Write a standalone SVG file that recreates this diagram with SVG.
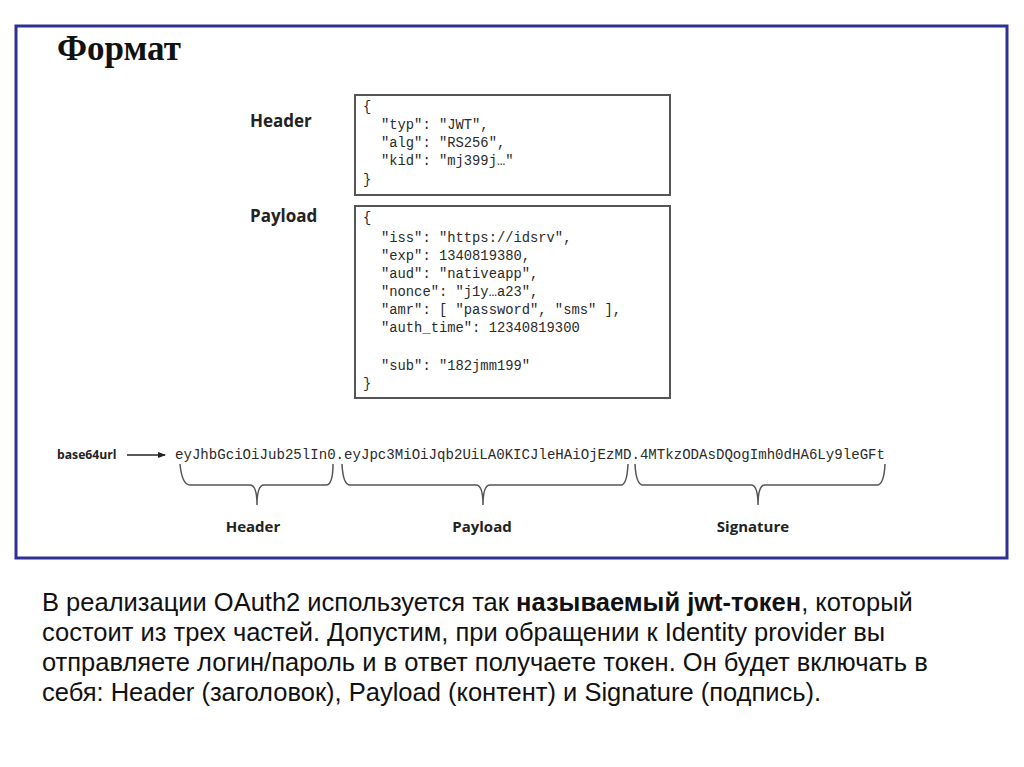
<svg xmlns="http://www.w3.org/2000/svg" width="1024" height="767" viewBox="0 0 1024 767">
<style>
.code{font-family:"Liberation Mono","DejaVu Sans Mono",monospace;font-size:13.8px;fill:#2a2a2a}
.lbl{font-family:"Open Sans","Liberation Sans",sans-serif;font-weight:bold;font-size:15px;fill:#222}
.lbl2{font-family:"Open Sans","Liberation Sans",sans-serif;font-weight:bold;font-size:17px;fill:#222}
.box{fill:#fff;stroke:#555;stroke-width:2}
.brace{fill:none;stroke:#555;stroke-width:1.5}
.para{font-family:"Liberation Sans",Arial,sans-serif;font-size:25.5px;fill:#111}
</style>
<defs>
<marker id="ah" markerWidth="8" markerHeight="6" refX="7" refY="3" orient="auto" markerUnits="userSpaceOnUse">
<path d="M0,0 L8,3 L0,6 Z" fill="#222"/>
</marker>
</defs>
<rect width="1024" height="767" fill="#fff"/>
<rect x="16" y="26" width="991" height="532" fill="none" stroke="#2e3192" stroke-width="3"/>
<text x="57" y="60" font-family="Liberation Serif,serif" font-weight="bold" font-size="35" fill="#111">Формат</text>

<g id="header-node">
<text class="lbl2" x="250" y="127">Header</text>
<rect class="box" x="355" y="95" width="315" height="100"/>
<text class="code" x="363" y="111">{</text>
<text class="code" x="381" y="129">"typ": "JWT",</text>
<text class="code" x="381" y="147">"alg": "RS256",</text>
<text class="code" x="381" y="165">"kid": "mj399j…"</text>
<text class="code" x="363" y="184">}</text>
</g>

<g id="payload-node">
<text class="lbl2" x="250" y="222">Payload</text>
<rect class="box" x="355" y="206" width="315" height="192"/>
<text class="code" x="363" y="222">{</text>
<text class="code" x="381" y="242">"iss": "https://idsrv",</text>
<text class="code" x="381" y="260">"exp": 1340819380,</text>
<text class="code" x="381" y="278">"aud": "nativeapp",</text>
<text class="code" x="381" y="296">"nonce": "j1y…a23",</text>
<text class="code" x="381" y="314">"amr": [ "password", "sms" ],</text>
<text class="code" x="381" y="332">"auth_time": 12340819300</text>
<text class="code" x="381" y="370">"sub": "182jmm199"</text>
<text class="code" x="363" y="388">}</text>
</g>

<g id="token">
<text x="57" y="459" font-family="Open Sans,Liberation Sans,sans-serif" font-weight="bold" font-size="12.2" fill="#222">base64url</text>
<text class="code" x="175" y="459" textLength="710" lengthAdjust="spacingAndGlyphs">eyJhbGciOiJub25lIn0.eyJpc3MiOiJqb2UiLA0KICJleHAiOjEzMD.4MTkzODAsDQogImh0dHA6Ly9leGFt</text>
</g>

<g id="connectors">
<line x1="127" y1="455" x2="165" y2="455" stroke="#222" stroke-width="1.3" marker-end="url(#ah)"/>
<path class="brace" d="M180,464 Q182,485 190,485 L250,485 Q257,485 257,505 Q257,485 264,485 L326,485 Q333,485 333,464"/>
<path class="brace" d="M342,464 Q343,485 350,485 L476,485 Q483,485 483,505 Q483,485 490,485 L621,485 Q627,485 628,464"/>
<path class="brace" d="M635,464 Q636,485 643,485 L751,485 Q758,485 758,505 Q758,485 765,485 L877,485 Q884,485 885,464"/>
</g>

<g id="labels">
<text class="lbl" x="253" y="532" text-anchor="middle">Header</text>
<text class="lbl" x="482" y="532" text-anchor="middle">Payload</text>
<text class="lbl" x="753" y="532" text-anchor="middle">Signature</text>
</g>

<g id="paragraph">
<text class="para" x="42" y="611">В реализации OAuth2 используется так <tspan font-weight="bold">называемый jwt-токен</tspan>, который</text>
<text class="para" x="42" y="641">состоит из трех частей. Допустим, при обращении к Identity provider вы</text>
<text class="para" x="42" y="671">отправляете логин/пароль и в ответ получаете токен. Он будет включать в</text>
<text class="para" x="42" y="701">себя: Header (заголовок), Payload (контент) и Signature (подпись).</text>
</g>
</svg>
